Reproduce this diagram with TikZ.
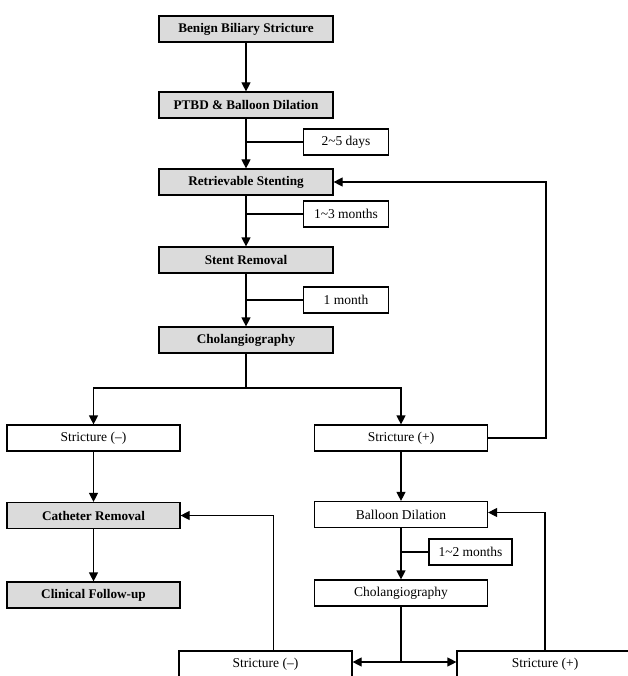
\documentclass[tikz,border=0pt]{standalone}
\usepackage{fontspec}
\setmainfont{Liberation Serif}
\usetikzlibrary{arrows.meta}

\tikzset{
  mainbox/.style={draw, line width=1.2pt, fill=gray!28, minimum width=174pt, minimum height=26pt, inner sep=0pt, font=\fontsize{13.2}{15}\selectfont\bfseries},
  plainbox/.style={draw, line width=1.2pt, fill=white, minimum width=173pt, minimum height=26pt, inner sep=0pt, font=\fontsize{13.5}{15}\selectfont},
  timebox/.style={draw, line width=1.2pt, fill=white, minimum width=85pt, minimum height=26pt, inner sep=0pt, font=\fontsize{13.5}{15}\selectfont},
  flow/.style={line width=1.2pt, -{Triangle[length=9pt,width=9pt]}},
  link/.style={line width=1.2pt}
}

\begin{document}
\begin{tikzpicture}[x=1pt, y=-1pt]
        \useasboundingbox[fill=white] (0,0) rectangle (627,676);

        % main column
        \node[mainbox] (benign) at (246,29) {Benign Biliary Stricture};
        \node[mainbox] (ptbd) at (246,105) {PTBD \& Balloon Dilation};
        \node[mainbox] (stent) at (246,182) {Retrievable Stenting};
        \node[mainbox] (removal) at (246,260) {Stent Removal};
        \node[mainbox] (chol) at (246,340) {Cholangiography};

        \node[timebox] (days) at (346,142) {2\textasciitilde5 days};
        \node[timebox] (monthsA) at (346,214) {1\textasciitilde3 months};
        \node[timebox] (monthB) at (346,300) {1 month};

        % left branch
        \node[plainbox] (strminus) at (93.5,438) {Stricture (–)};
        \node[mainbox, minimum width=173pt] (catheter) at (93.5,515.5) {Catheter Removal};
        \node[mainbox, minimum width=173pt] (followup) at (93.5,595) {Clinical Follow-up};

        % right branch
        \node[plainbox] (strplus) at (401,438) {Stricture (+)};
        \node[plainbox] (balloon) at (401,514.5) {Balloon Dilation};
        \node[timebox, minimum width=83pt] (monthsC) at (470.5,552) {1\textasciitilde2 months};
        \node[plainbox] (cholB) at (401,593) {Cholangiography};
        \node[plainbox] (botminus) at (265.5,664) {Stricture (–)};
        \node[plainbox, minimum width=176pt] (botplus) at (545,664) {Stricture (+)};

        \coordinate (split) at (246,388);
        \coordinate (loopA) at (546,438);
        \coordinate (splitB) at (401,662);

        \draw[flow] (benign) -- (ptbd);
        \draw[flow] (ptbd) -- (stent);
        \draw[flow] (stent) -- (removal);
        \draw[flow] (removal) -- (chol);
        \draw[link] (days.west) -- (days.west -| ptbd.south);
        \draw[link] (monthsA.west) -- (monthsA.west -| stent.south);
        \draw[link] (monthB.west) -- (monthB.west -| removal.south);

        \draw[link] (chol) -- (split);
        \draw[flow] (split) -| (strminus.north);
        \draw[flow] (split) -| (strplus.north);
        \draw[flow] (strplus.east) -- (loopA) |- (stent.east);

        \draw[flow] (strminus) -- (catheter);
        \draw[flow] (catheter) -- (followup);

        \draw[flow] (strplus) -- (balloon);
        \draw[flow] (balloon) -- (cholB);
        \draw[link] (monthsC.west) -- (monthsC.west -| balloon.south);
        \draw[link] (cholB) -- (splitB);
        \draw[flow] (splitB) -- (splitB -| botminus.east);
        \draw[flow] (splitB) -- (splitB -| botplus.west);
        \draw[flow] ([xshift=8pt]botminus.north) |- (catheter.east);
        \draw[flow] (botplus.north) |- ([yshift=2pt]balloon.east);
    \end{tikzpicture}
\end{document}
